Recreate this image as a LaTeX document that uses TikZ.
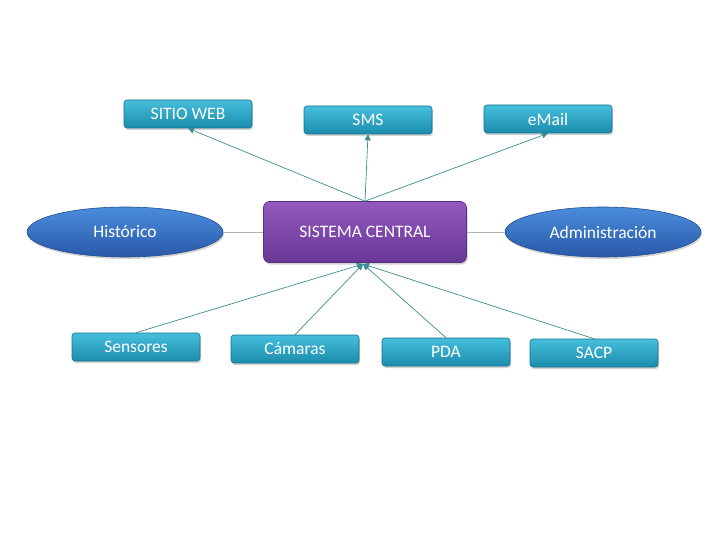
\documentclass[tikz,border=0pt]{standalone}
\usepackage{fontspec}
\setmainfont{Carlito}
\usetikzlibrary{shapes.geometric,shadows,arrows.meta}
\definecolor{cyanT}{HTML}{45BEDC}
\definecolor{cyanB}{HTML}{1C8DAC}
\definecolor{cyanD}{HTML}{17728C}
\definecolor{purT}{HTML}{9459BE}
\definecolor{purB}{HTML}{683796}
\definecolor{purD}{HTML}{553080}
\definecolor{bluT}{HTML}{4B8CDC}
\definecolor{bluB}{HTML}{2859A8}
\definecolor{bluD}{HTML}{224E92}
\definecolor{lineC}{HTML}{3E8C94}
\tikzset{
  cbox/.style={rectangle, rounded corners=3pt, minimum width=128pt, minimum height=28pt,
    top color=cyanT, bottom color=cyanB, draw=cyanD, line width=0.6pt,
    drop shadow={shadow xshift=1pt, shadow yshift=-2pt, opacity=0.35},
    text=white, font=\fontsize{17.5}{20}\selectfont, inner sep=0pt},
  pbox/.style={rectangle, rounded corners=6pt, minimum width=203pt, minimum height=61pt,
    top color=purT, bottom color=purB, draw=purD, line width=0.6pt,
    drop shadow={shadow xshift=1pt, shadow yshift=-2pt, opacity=0.35},
    text=white, font=\fontsize{17.5}{20}\selectfont, inner sep=0pt},
  ell/.style={ellipse, minimum width=196pt, minimum height=50pt,
    top color=bluT, bottom color=bluB, draw=bluD, line width=0.6pt,
    drop shadow={shadow xshift=1pt, shadow yshift=-2pt, opacity=0.35},
    text=white, font=\fontsize{17.5}{20}\selectfont, inner sep=0pt},
  conn/.style={draw=lineC, line width=0.7pt, -{Triangle[length=6pt,width=6pt]}},
  hconn/.style={draw=gray!60, line width=0.8pt}
}
\begin{document}
\begin{tikzpicture}[x=1pt,y=-1pt]
\useasboundingbox (0,0) rectangle (720,540);
\coordinate (cb) at (363,264);
\node[pbox] (c) at (365,232) {SISTEMA CENTRAL};
\node[ell] (h) at (125,232) {Histórico};
\node[ell] (a) at (603,232) {Administración};
\node[cbox] (w) at (188,114) {SITIO WEB};
\node[cbox] (s) at (368,120) {SMS};
\node[cbox] (e) at (548,119) {eMail};
\node[cbox] (se) at (136,347) {Sensores};
\node[cbox] (ca) at (295,349) {Cámaras};
\node[cbox] (p) at (446,352) {PDA};
\node[cbox] (sa) at (594,353) {SACP};
\draw[hconn] (h.east) -- (c.west);
\draw[hconn] (c.east) -- (a.west);
\draw[conn] (c.north) -- (w.south);
\draw[conn] (c.north) -- (s.south);
\draw[conn] (c.north) -- (e.south);
\draw[conn] (se.north) -- (cb);
\draw[conn] (ca.north) -- (cb);
\draw[conn] (p.north) -- (cb);
\draw[conn] (sa.north) -- (cb);
\end{tikzpicture}
\end{document}
